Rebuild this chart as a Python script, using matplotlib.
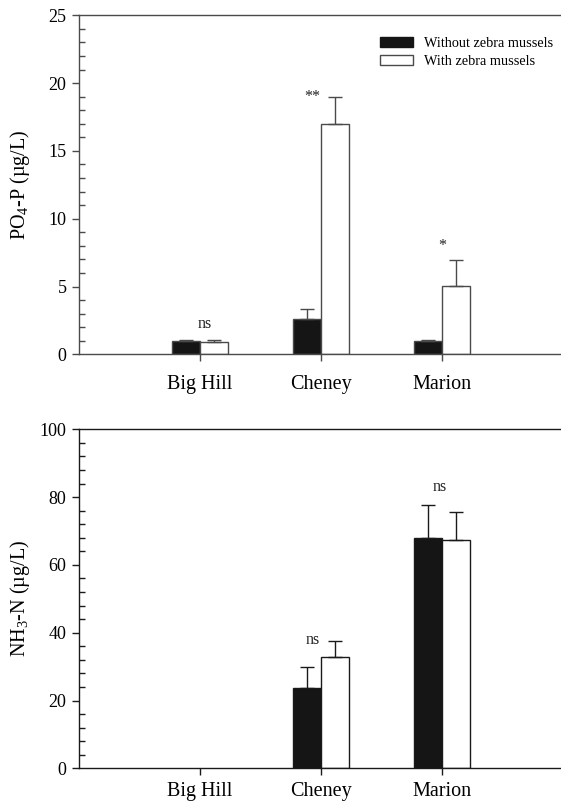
import matplotlib
matplotlib.use("Agg")
import matplotlib.pyplot as plt
import numpy as np
from matplotlib.patches import Patch
from matplotlib.ticker import MultipleLocator

plt.rcParams['font.family'] = ['Liberation Serif', 'DejaVu Serif']
plt.rcParams['mathtext.fontset'] = 'custom'
plt.rcParams['mathtext.rm'] = 'Liberation Serif'
plt.rcParams['mathtext.it'] = 'Liberation Serif:italic'

# ---- data ----
sites = ["Big Hill", "Cheney", "Marion"]
series_labels = ["Without zebra mussels", "With zebra mussels"]

po4_without = [1.0, 2.6, 1.0]
po4_without_err = [0.08, 0.72, 0.08]
po4_with = [0.93, 17.0, 5.03]
po4_with_err = [0.13, 1.95, 1.95]
po4_marks = ["ns", "**", "*"]
po4_mark_y = [2.2, 19.0, 8.0]

nh3_without = [np.nan, 23.8, 68.0]
nh3_without_err = [np.nan, 6.2, 9.8]
nh3_with = [np.nan, 32.9, 67.4]
nh3_with_err = [np.nan, 4.7, 8.3]
nh3_marks = ["", "ns", "ns"]
nh3_mark_y = [0, 37.8, 83.0]

fig = plt.figure(figsize=(5.61, 8.01), dpi=100)
W, H = 561, 801

def make_ax(bottom_px, top_px, edge):
    left = 79
    right = 563
    ax = fig.add_axes([left / W, 1 - bottom_px / H, (right - left) / W, (bottom_px - top_px) / H])
    for s in ax.spines.values():
        s.set_color(edge)
        s.set_linewidth(1.0)
    ax.spines['right'].set_visible(False)
    return ax

x = np.arange(1, len(sites) + 1)
bw = 0.235

def draw(ax, without, without_err, withv, with_err, marks, mark_y, ymax, major, minor, edge, mark_dx, xpad):
    ax.bar(x - bw / 2, without, bw, color='#151515', edgecolor=edge, linewidth=1.0,
           yerr=[np.zeros(len(without)), without_err], error_kw=dict(ecolor=edge, elinewidth=1.0, capsize=5, capthick=1.0),
           label=series_labels[0])
    ax.bar(x + bw / 2, withv, bw, color='white', edgecolor=edge, linewidth=1.0,
           yerr=[np.zeros(len(withv)), with_err], error_kw=dict(ecolor=edge, elinewidth=1.0, capsize=5, capthick=1.0),
           label=series_labels[1])
    for xi, m, my, dx in zip(x, marks, mark_y, mark_dx):
        if m:
            ax.text(xi + dx, my, m, ha='center', va='center', fontsize=11.5, color='#222')
    ax.set_xlim(0, 4)
    ax.set_ylim(0, ymax)
    ax.set_xticks(x)
    ax.set_xticklabels(sites, fontsize=14.5)
    ax.yaxis.set_major_locator(MultipleLocator(major))
    ax.yaxis.set_minor_locator(MultipleLocator(minor))
    ax.tick_params(axis='y', which='major', direction='out', length=5, width=1, labelsize=13, color=edge, pad=4)
    ax.tick_params(axis='y', which='minor', direction='in', length=4, width=1, color=edge)
    ax.tick_params(axis='x', which='major', direction='out', length=5, width=1, color=edge, pad=xpad)
    ax.tick_params(right=False, top=False, which='both')

edge_top = '#4a4a4a'
edge_bot = '#1a1a1a'

ax1 = make_ax(354.3, 15.3, edge_top)
draw(ax1, po4_without, po4_without_err, po4_with, po4_with_err, po4_marks, po4_mark_y,
     25, 5, 1, edge_top, [0.04, -0.07, 0.0], 10)
ax1.set_ylabel(r"PO$_4$-P (µg/L)", fontsize=14.5)
ax1.yaxis.set_label_coords(-0.097, 0.5)

handles = [Patch(facecolor='#151515', edgecolor='#151515', label=series_labels[0]),
           Patch(facecolor='white', edgecolor='#4a4a4a', label=series_labels[1])]
ax1.legend(handles=handles, loc='upper left', bbox_to_anchor=(380 / W, 1 - 37 / H),
           bbox_transform=fig.transFigure, frameon=False, fontsize=10.3,
           handlelength=2.3, handleheight=0.7, handletextpad=0.8, labelspacing=0.35,
           borderpad=0, borderaxespad=0)

ax2 = make_ax(768.3, 429.3, edge_bot)
draw(ax2, nh3_without, nh3_without_err, nh3_with, nh3_with_err, nh3_marks, nh3_mark_y,
     100, 20, 4, edge_bot, [0.0, -0.07, -0.02], 5)
ax2.set_ylabel(r"NH$_3$-N (µg/L)", fontsize=14.5)
ax2.yaxis.set_label_coords(-0.097, 0.5)

fig.savefig("out.png", dpi=100)
